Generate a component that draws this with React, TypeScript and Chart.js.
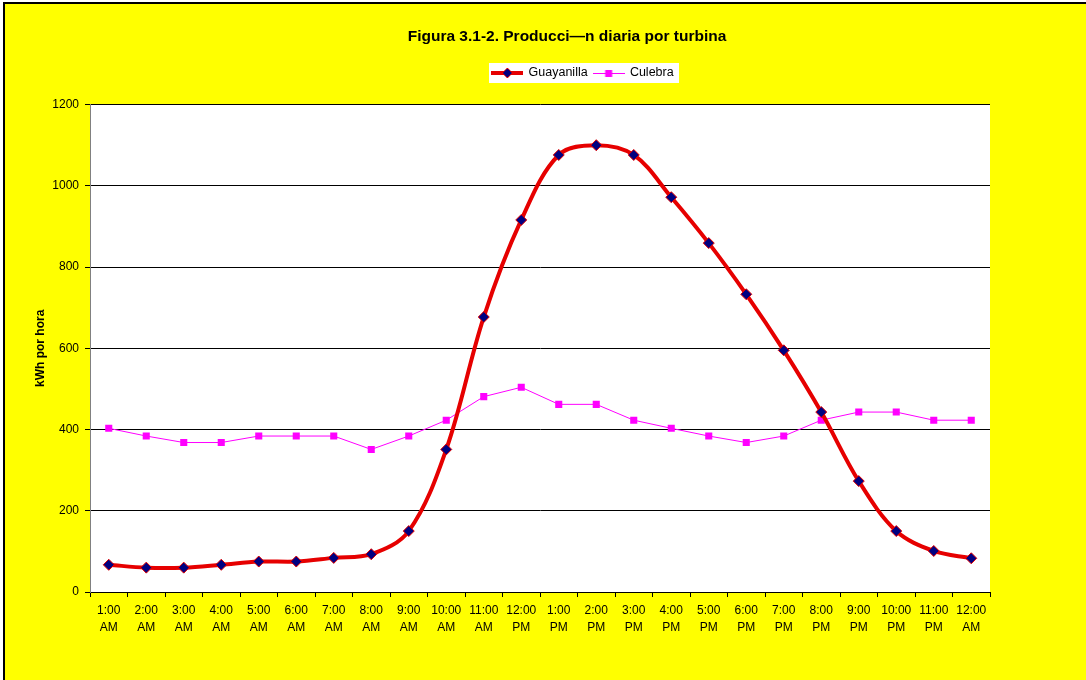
import React, { useEffect, useRef } from "react";
import { Chart, registerables } from "chart.js";

Chart.register(...registerables);

const hours = ["1:00", "2:00", "3:00", "4:00", "5:00", "6:00", "7:00", "8:00", "9:00", "10:00", "11:00", "12:00",
  "1:00", "2:00", "3:00", "4:00", "5:00", "6:00", "7:00", "8:00", "9:00", "10:00", "11:00", "12:00"];
const periods = ["AM", "AM", "AM", "AM", "AM", "AM", "AM", "AM", "AM", "AM", "AM", "PM",
  "PM", "PM", "PM", "PM", "PM", "PM", "PM", "PM", "PM", "PM", "PM", "AM"];
const guayanilla = [67, 60, 60, 67, 75, 75, 84, 93, 150, 351, 677, 916, 1076, 1100, 1076, 972, 859, 733, 595, 443, 273, 150, 101, 83];
const culebra = [403, 384, 368, 368, 384, 384, 384, 351, 384, 423, 481, 504, 462, 462, 423, 403, 384, 368, 384, 423, 443, 443, 423, 423];
const seriesNames = ["Guayanilla", "Culebra"];
const yMin = 0;
const yMax = 1200;
const yStep = 200;
const chartTitle = "Figura 3.1-2. Producci—n diaria por turbina";
const yAxisTitle = "kWh por hora";

const FONT = "'Liberation Sans', Arial, sans-serif";
const RED = "#e60000";
const NAVY = "#000080";
const MAGENTA = "#ff00ff";

const TITLE_CX = 567;
const LEGEND_CX = 583;
const LEGEND_TEXT_CY = 73;

function makeIcon(kind: number): HTMLCanvasElement {
  const c = document.createElement("canvas");
  c.width = 32;
  c.height = 14;
  const ctx = c.getContext("2d")!;
  if (kind === 0) {
    ctx.strokeStyle = RED;
    ctx.lineWidth = 4;
    ctx.beginPath();
    ctx.moveTo(0, 7);
    ctx.lineTo(32, 7);
    ctx.stroke();
    ctx.beginPath();
    ctx.moveTo(16, 2);
    ctx.lineTo(21, 7);
    ctx.lineTo(16, 12);
    ctx.lineTo(11, 7);
    ctx.closePath();
    ctx.fillStyle = NAVY;
    ctx.fill();
    ctx.lineWidth = 1;
    ctx.strokeStyle = RED;
    ctx.stroke();
  } else {
    ctx.strokeStyle = MAGENTA;
    ctx.lineWidth = 1;
    ctx.beginPath();
    ctx.moveTo(0, 7.5);
    ctx.lineTo(32, 7.5);
    ctx.stroke();
    ctx.fillStyle = MAGENTA;
    ctx.fillRect(12.5, 4, 7, 7);
  }
  return c;
}

const layoutPlugin = {
  id: "customLayout",
  afterLayout(chart: any) {
    const t = chart.titleBlock;
    if (t) {
      const w = t.right - t.left;
      const h = t.bottom - t.top;
      t.left = TITLE_CX - w / 2;
      t.right = t.left + w;
      t.top = 0;
      t.bottom = h;
    }
    const l = chart.legend;
    if (l) {
      const w = l.right - l.left;
      const h = l.bottom - l.top;
      l.left = LEGEND_CX - w / 2;
      l.right = l.left + w;
      const pad = l.options.labels.padding;
      const fs = l.options.labels.font.size;
      l.top = LEGEND_TEXT_CY - pad - fs / 2;
      l.bottom = l.top + h;
    }
  },
  beforeDraw(chart: any) {
    const { ctx, chartArea } = chart;
    ctx.save();
    ctx.fillStyle = "#ffffff";
    ctx.fillRect(chartArea.left, chartArea.top, chartArea.right - chartArea.left, chartArea.bottom - chartArea.top);
    const l = chart.legend;
    if (l && l.legendHitBoxes && l.legendHitBoxes.length) {
      const hb = l.legendHitBoxes;
      let minL = Infinity, maxR = -Infinity, cy = 0;
      hb.forEach((b: any) => {
        minL = Math.min(minL, b.left);
        maxR = Math.max(maxR, b.left + b.width);
        cy = b.top + b.height / 2;
      });
      ctx.fillRect(Math.round(minL - 3), Math.round(cy - 10), Math.round(maxR - minL + 9), 20);
    }
    ctx.restore();
  },
};

export default function App() {
  const ref = useRef<HTMLCanvasElement | null>(null);

  useEffect(() => {
    if (!ref.current) return;
    Chart.defaults.font.family = FONT;
    Chart.defaults.color = "#000";
    const icons = [makeIcon(0), makeIcon(1)];
    const labels = hours.map((h, i) => [h, periods[i]]);
    const chart = new Chart(ref.current, {
      type: "line",
      data: {
        labels,
        datasets: [
          {
            label: seriesNames[0],
            data: guayanilla,
            borderColor: RED,
            borderWidth: 4,
            tension: 0.35,
            pointStyle: "rectRot",
            pointRadius: 5.5,
            pointBackgroundColor: NAVY,
            pointBorderColor: RED,
            pointBorderWidth: 1,
            fill: false,
          },
          {
            label: seriesNames[1],
            data: culebra,
            borderColor: MAGENTA,
            borderWidth: 1,
            tension: 0,
            pointStyle: "rect",
            pointRadius: 5,
            pointBackgroundColor: MAGENTA,
            pointBorderColor: MAGENTA,
            pointBorderWidth: 0,
            fill: false,
          },
        ],
      },
      options: {
        responsive: false,
        animation: false,
        layout: { padding: { top: 30.5, left: 30, right: 96, bottom: 0 } },
        plugins: {
          tooltip: { enabled: false },
          title: {
            display: true,
            text: chartTitle,
            color: "#000",
            font: { size: 15.5, weight: "bold", family: FONT },
            padding: { top: 27, bottom: 0 },
          },
          legend: {
            display: true,
            position: "top",
            labels: {
              color: "#000",
              font: { size: 12.5, family: FONT },
              usePointStyle: true,
              pointStyleWidth: 30,
              padding: 6,
              generateLabels: (ch: any) => {
                const items = (Chart.defaults.plugins.legend.labels as any).generateLabels(ch);
                items.forEach((it: any, i: number) => {
                  it.pointStyle = icons[i];
                });
                return items;
              },
            },
          },
        },
        scales: {
          x: {
            type: "category",
            offset: true,
            grid: {
              offset: true,
              drawOnChartArea: false,
              drawTicks: true,
              tickLength: 5,
              color: "#000",
            },
            border: { color: "#000", width: 1 },
            ticks: {
              autoSkip: false,
              maxRotation: 0,
              minRotation: 0,
              padding: 5,
              color: "#000",
              font: { size: 12, family: FONT, lineHeight: 1.4 },
            },
            afterFit: (s: any) => {
              s.height = 88;
            },
          },
          y: {
            min: yMin,
            max: yMax,
            ticks: {
              stepSize: yStep,
              padding: 6,
              color: "#000",
              font: { size: 12, family: FONT },
              callback: (v: any) => String(v),
            },
            grid: {
              color: "#000",
              lineWidth: 1,
              drawTicks: true,
              tickLength: 5,
            },
            border: { color: "#808080", width: 1 },
            title: {
              display: true,
              text: yAxisTitle,
              color: "#000",
              font: { size: 12, weight: "bold", family: FONT },
              padding: { top: 3, bottom: 0 },
            },
            afterFit: (s: any) => {
              s.width = 60;
            },
          },
        },
      },
      plugins: [layoutPlugin],
    } as any);
    return () => chart.destroy();
  }, []);

  return (
    <div style={{ position: "fixed", left: 0, top: 0, width: 1086, height: 680, overflow: "hidden", background: "#fff" }}>
      <div
        style={{
          position: "absolute",
          left: 3,
          top: 2,
          width: 1200,
          height: 720,
          background: "#ffff00",
          border: "2px solid #000",
          boxSizing: "border-box",
        }}
      />
      <canvas ref={ref} width={1086} height={680} style={{ position: "absolute", left: 0, top: 0, width: 1086, height: 680 }} />
    </div>
  );
}
